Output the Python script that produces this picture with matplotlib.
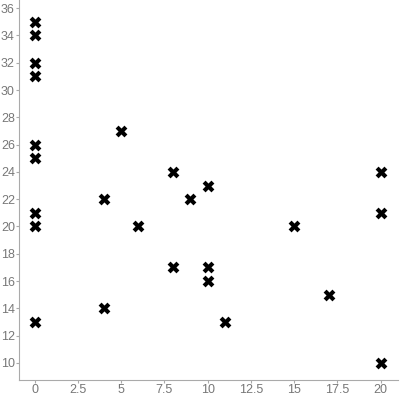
import matplotlib.pyplot as plt
import numpy as np

plt.rcParams['font.family'] = ['Liberation Sans', 'DejaVu Sans']

x = [0, 0, 0, 0, 0, 0, 0, 0, 0,
     4, 4, 5, 6, 8, 8, 9, 10, 10, 10, 11, 15, 17, 20, 20, 20]
y = [35, 34, 32, 31, 26, 25, 21, 20, 13,
     22, 14, 27, 20, 24, 17, 22, 23, 17, 16, 13, 20, 15, 24, 21, 10]

fig = plt.figure(figsize=(4, 4), dpi=100)
ax = fig.add_axes([0.0475, 0.05, 0.9475, 0.95])
ax.scatter(x, y, marker='X', s=72, c='black', linewidths=0)

ax.set_xlim(-0.9, 21)
ax.set_ylim(8.75, 36.6)
ax.set_xticks([0, 2.5, 5, 7.5, 10, 12.5, 15, 17.5, 20])
ax.set_xticklabels(['0', '2.5', '5', '7.5', '10', '12.5', '15', '17.5', '20'])
ax.set_yticks(np.arange(10, 37, 2))

for side in ['top', 'right']:
    ax.spines[side].set_visible(False)
for side in ['left', 'bottom']:
    ax.spines[side].set_color('#aaaaaa')
ax.tick_params(colors='#aaaaaa', labelcolor='#777777', labelsize=9, length=2.5, pad=0.5)

fig.savefig('out.png', dpi=100)
